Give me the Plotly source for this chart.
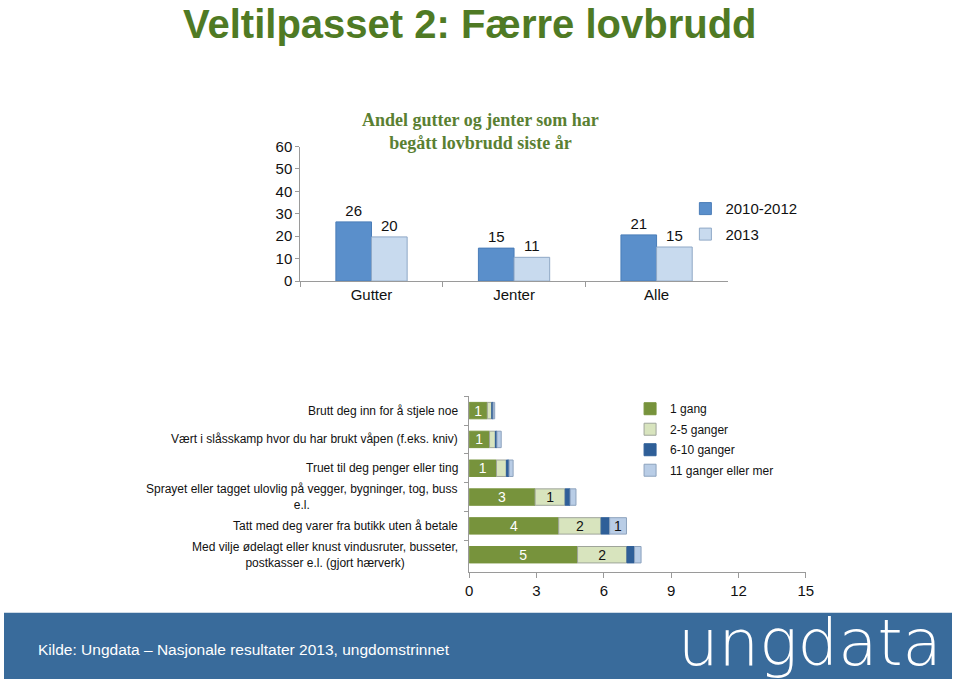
import numpy as np
import plotly.graph_objects as go

# ---------- data ----------
groups = ["Gutter", "Jenter", "Alle"]
share_2010_2012 = [26.4, 14.7, 20.6]
share_2013 = [19.7, 10.6, 15.2]

offences = [
    "Brutt deg inn for å stjele noe",
    "Vært i slåsskamp hvor du har brukt våpen (f.eks. kniv)",
    "Truet til deg penger eller ting",
    "Sprayet eller tagget ulovlig på vegger, bygninger, tog, buss<br>e.l.",
    "Tatt med deg varer fra butikk uten å betale",
    "Med vilje ødelagt eller knust vindusruter, busseter,<br>postkasser e.l. (gjort hærverk)",
]
freq_names = ["1 gang", "2-5 ganger", "6-10 ganger", "11 ganger eller mer"]
once = [0.81, 0.91, 1.22, 2.94, 3.99, 4.83]
two_five = [0.20, 0.26, 0.44, 1.34, 1.89, 2.20]
six_ten = [0.06, 0.07, 0.12, 0.22, 0.38, 0.34]
eleven_plus = [0.07, 0.19, 0.18, 0.26, 0.75, 0.29]

# ---------- styles ----------
GREEN_TITLE = "#4F7A24"
FONT = "Liberation Sans, Arial, sans-serif"
AX = "#9a9a9a"

fig = go.Figure()

# top grouped bars
fig.add_trace(go.Bar(
    x=groups, y=share_2010_2012, name="2010-2012",
    marker=dict(color="#5A8FCB", line=dict(color="#4A7DB8", width=1)),
    texttemplate="%{y:.0f}", textposition="outside",
    textfont=dict(size=15, color="#111"), cliponaxis=False,
    xaxis="x", yaxis="y", legend="legend", legendgroup="a",
))
fig.add_trace(go.Bar(
    x=groups, y=share_2013, name="2013",
    marker=dict(color="#C8DAEE", line=dict(color="#8FA8C6", width=1)),
    texttemplate="%{y:.0f}", textposition="outside",
    textfont=dict(size=15, color="#111"), cliponaxis=False,
    xaxis="x", yaxis="y", legend="legend", legendgroup="b",
))

# bottom stacked bars (stacked via base)
series = [once, two_five, six_ten, eleven_plus]
colors = ["#77933C", "#D8E4BE", "#2F5F98", "#B9CDE6"]
lines = ["#77933C", "#9fa59a", "#2F5F98", "#8DA2BD"]
txtcol = ["white", "#111", "#111", "#111"]
base = np.zeros(len(offences))
for i, (vals, name) in enumerate(zip(series, freq_names)):
    vals = np.array(vals)
    labels = [str(int(round(v))) if round(v) >= 1 else "" for v in vals]
    fig.add_trace(go.Bar(
        y=offences, x=vals, base=base.copy(), orientation="h", name=name,
        width=0.57, offsetgroup="s",
        marker=dict(color=colors[i], line=dict(color=lines[i], width=1)),
        text=labels, textposition="inside", insidetextanchor="middle", textangle=0,
        textfont=dict(size=14, color=txtcol[i]),
        xaxis="x2", yaxis="y2", legend="legend2", legendgroup=f"f{i}",
    ))
    base = base + vals

W, H = 960, 687
def fx(px):
    return px / W
def fy(py):
    return 1 - py / H

annotations = [
    dict(text="Veltilpasset 2: Færre lovbrudd", xref="paper", yref="paper",
         x=fx(472), y=fy(15), xanchor="center", yanchor="middle", showarrow=False,
         font=dict(family="Liberation Sans Narrow, Liberation Sans, Arial", size=40,
                   color=GREEN_TITLE, weight="bold")),
    dict(text="Andel gutter og jenter som har<br>begått lovbrudd siste år", xref="paper", yref="paper",
         x=fx(483), y=fy(126), xanchor="center", yanchor="middle", showarrow=False,
         font=dict(family="Liberation Serif, DejaVu Serif, serif", size=18,
                   color="#5A8032", weight="bold")),
    dict(text="Kilde: Ungdata – Nasjonale resultater 2013, ungdomstrinnet", xref="paper", yref="paper",
         x=fx(32), y=fy(657), xanchor="left", yanchor="middle", showarrow=False,
         font=dict(family="Liberation Sans Narrow, Liberation Sans, Arial", size=15.5, color="white")),
    dict(text="ungdata", xref="paper", yref="paper",
         x=fx(952), y=fy(650), xanchor="right", yanchor="middle", showarrow=False,
         font=dict(family="DejaVu Sans, sans-serif", size=64, color="white", weight=200)),
]
for o in offences:
    annotations.append(dict(
        text=o, xref="paper", yref="y2", x=fx(462), y=o, xanchor="right",
        yanchor="middle", align="center", showarrow=False,
        font=dict(family=FONT, size=12, color="#111")))

fig.update_layout(
    width=W, height=H, margin=dict(l=0, r=0, t=0, b=0),
    paper_bgcolor="white", plot_bgcolor="white",
    font=dict(family=FONT, color="#111"),
    barmode="group", bargap=0.5, bargroupgap=0,
    uniformtext=dict(minsize=13, mode="show"),
    xaxis=dict(domain=[fx(300), fx(733)], anchor="y", showline=True, linecolor=AX,
               ticks="outside", tickson="boundaries", tickcolor=AX, ticklen=5,
               tickfont=dict(size=15), showgrid=False),
    yaxis=dict(domain=[fy(279), fy(141)], anchor="x", range=[0, 60], dtick=10,
               showline=True, linecolor=AX, ticks="outside", tickcolor=AX, ticklen=4,
               tickfont=dict(size=15), showgrid=False, zeroline=False),
    xaxis2=dict(domain=[fx(471), fx(812)], anchor="y2", range=[0, 15], dtick=3,
                showline=True, linecolor=AX, ticks="outside", tickcolor=AX, ticklen=5,
                tickfont=dict(size=15), showgrid=False, zeroline=False),
    yaxis2=dict(domain=[fy(577), fy(397)], anchor="x2", categoryorder="array",
                categoryarray=offences, autorange="reversed", showline=True,
                linecolor=AX, showticklabels=False, ticks="outside", tickson="boundaries",
                tickcolor=AX, ticklen=4, showgrid=False),
    legend=dict(x=fx(690), y=fy(188), xanchor="left", yanchor="top",
                font=dict(size=15), traceorder="grouped", tracegroupgap=3,
                bgcolor="rgba(0,0,0,0)"),
    legend2=dict(x=fx(634), y=fy(395), xanchor="left", yanchor="top",
                 font=dict(size=12), traceorder="grouped", tracegroupgap=1.5,
                 bgcolor="rgba(0,0,0,0)"),
    shapes=[dict(type="rect", xref="paper", yref="paper", x0=0, x1=1,
                 y0=0, y1=fy(619), fillcolor="#396B9B", line=dict(width=0), layer="below")],
    annotations=annotations,
)

fig.write_html("out.html", config={"displayModeBar": False},
               post_script="document.body.style.margin='0';document.body.style.overflow='hidden';")
